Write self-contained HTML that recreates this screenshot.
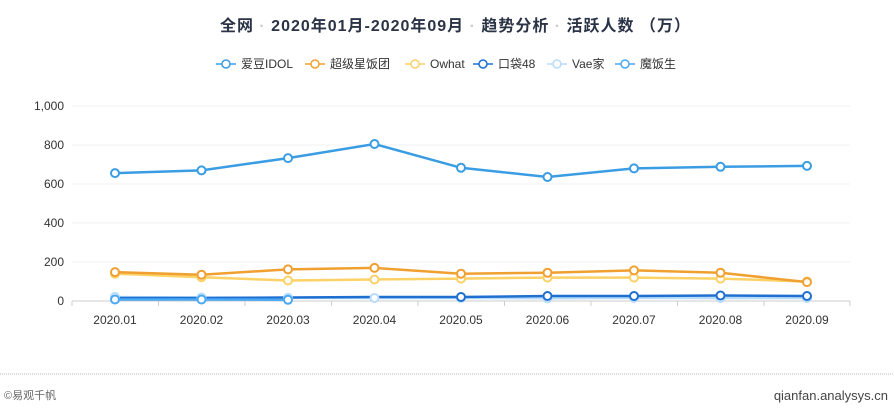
<!DOCTYPE html><html><head><meta charset="utf-8"><style>
body{margin:0;width:894px;height:406px;background:#fff;font-family:"Liberation Sans","Noto Sans CJK SC",sans-serif;overflow:hidden}
</style></head><body>
<svg width="894" height="406" xmlns="http://www.w3.org/2000/svg" font-family="Liberation Sans, Noto Sans CJK SC, sans-serif">
<text x="220" y="31" textLength="470" lengthAdjust="spacing" font-size="16" fill="#2b3346" font-weight="bold" font-family="Liberation Sans, Noto Sans CJK SC, sans-serif">全网 <tspan fill="#ccc">·</tspan> 2020年01月-2020年09月 <tspan fill="#ccc">·</tspan> 趋势分析 <tspan fill="#ccc">·</tspan> 活跃人数 （万）</text>
<g font-size="12" fill="#333">
<g transform="translate(216,64)"><line x1="0" y1="0" x2="20" y2="0" stroke="#3a9de3" stroke-width="1.5"/><circle cx="10" cy="0" r="4" fill="#fff" stroke="#3a9de3" stroke-width="1.5"/><text x="25" y="4">爱豆IDOL</text></g>
<g transform="translate(305,64)"><line x1="0" y1="0" x2="20" y2="0" stroke="#f0a030" stroke-width="1.5"/><circle cx="10" cy="0" r="4" fill="#fff" stroke="#f0a030" stroke-width="1.5"/><text x="25" y="4">超级星饭团</text></g>
<g transform="translate(405,64)"><line x1="0" y1="0" x2="20" y2="0" stroke="#fcd165" stroke-width="1.5"/><circle cx="10" cy="0" r="4" fill="#fff" stroke="#fcd165" stroke-width="1.5"/><text x="25" y="4">Owhat</text></g>
<g transform="translate(473,64)"><line x1="0" y1="0" x2="20" y2="0" stroke="#1f6fd0" stroke-width="1.5"/><circle cx="10" cy="0" r="4" fill="#fff" stroke="#1f6fd0" stroke-width="1.5"/><text x="25" y="4">口袋48</text></g>
<g transform="translate(547,64)"><line x1="0" y1="0" x2="20" y2="0" stroke="#b7dcfb" stroke-width="1.5"/><circle cx="10" cy="0" r="4" fill="#fff" stroke="#b7dcfb" stroke-width="1.5"/><text x="25" y="4">Vae家</text></g>
<g transform="translate(615,64)"><line x1="0" y1="0" x2="20" y2="0" stroke="#4aa8f5" stroke-width="1.5"/><circle cx="10" cy="0" r="4" fill="#fff" stroke="#4aa8f5" stroke-width="1.5"/><text x="25" y="4">魔饭生</text></g>
</g>
<g stroke="#f0f0f0" stroke-width="1">
<line x1="72" y1="106" x2="850" y2="106"/><line x1="72" y1="145" x2="850" y2="145"/><line x1="72" y1="184" x2="850" y2="184"/><line x1="72" y1="223" x2="850" y2="223"/><line x1="72" y1="262" x2="850" y2="262"/>
</g>
<line x1="72" y1="301" x2="850" y2="301" stroke="#ccc"/>
<g stroke="#ccc"><line x1="72" y1="301" x2="72" y2="306"/><line x1="158.5" y1="301" x2="158.5" y2="306"/><line x1="245" y1="301" x2="245" y2="306"/><line x1="331.5" y1="301" x2="331.5" y2="306"/><line x1="418" y1="301" x2="418" y2="306"/><line x1="504.5" y1="301" x2="504.5" y2="306"/><line x1="591" y1="301" x2="591" y2="306"/><line x1="677.5" y1="301" x2="677.5" y2="306"/><line x1="764" y1="301" x2="764" y2="306"/><line x1="850" y1="301" x2="850" y2="306"/></g>
<g font-size="12" fill="#333" text-anchor="end">
<text x="64" y="110">1,000</text><text x="64" y="149">800</text><text x="64" y="188">600</text><text x="64" y="227">400</text><text x="64" y="266">200</text><text x="64" y="305">0</text></g>
<g font-size="12" fill="#333" text-anchor="middle">
<text x="115" y="324">2020.01</text><text x="201.5" y="324">2020.02</text><text x="288" y="324">2020.03</text><text x="374.5" y="324">2020.04</text><text x="461" y="324">2020.05</text><text x="547.5" y="324">2020.06</text><text x="634" y="324">2020.07</text><text x="720.5" y="324">2020.08</text><text x="807" y="324">2020.09</text></g>
<g id="s" fill="#fff" stroke-width="2.5">
<polyline fill="none" stroke="#b7dcfb" points="115,297 201.5,297.5 288,297.7 374.5,298 461,298 547.5,298.3 634,297.9 720.5,298 807,298"/>
<polyline fill="none" stroke="#1f6fd0" points="115,298 201.5,298 288,297.5 374.5,297 461,297 547.5,296 634,296 720.5,295.5 807,296"/>
<polyline fill="none" stroke="#4aa8f5" points="115,299.5 201.5,299.5 288,299.8"/>
<polyline fill="none" stroke="#fcd165" points="115,273.7 201.5,277.2 288,280.5 374.5,279.5 461,278.6 547.5,277.6 634,277.6 720.5,278.6 807,281.5"/>
<polyline fill="none" stroke="#f0a030" points="115,272.1 201.5,274.7 288,269.4 374.5,267.9 461,273.7 547.5,272.7 634,270.4 720.5,272.7 807,282.1"/>
<polyline fill="none" stroke="#3a9de3" points="115,173.1 201.5,170.4 288,158.1 374.5,144 461,167.8 547.5,177 634,168.4 720.5,166.8 807,165.9"/>
<g stroke="#b7dcfb" stroke-width="2"><circle cx="115" cy="297" r="4"/><circle cx="201.5" cy="297.5" r="4"/><circle cx="288" cy="297.7" r="4"/><circle cx="374.5" cy="298" r="4"/><circle cx="461" cy="298" r="4"/><circle cx="547.5" cy="298.3" r="4"/><circle cx="634" cy="297.9" r="4"/><circle cx="720.5" cy="298" r="4"/><circle cx="807" cy="298" r="4"/></g>
<g stroke="#1f6fd0" stroke-width="2"><circle cx="461" cy="297" r="4"/><circle cx="547.5" cy="296" r="4"/><circle cx="634" cy="296" r="4"/><circle cx="720.5" cy="295.5" r="4"/><circle cx="807" cy="296" r="4"/></g>
<g stroke="#4aa8f5" stroke-width="2"><circle cx="115" cy="299.5" r="4"/><circle cx="201.5" cy="299.5" r="4"/><circle cx="288" cy="299.8" r="4"/></g>
<g stroke="#fcd165" stroke-width="2"><circle cx="115" cy="273.7" r="4"/><circle cx="201.5" cy="277.2" r="4"/><circle cx="288" cy="280.5" r="4"/><circle cx="374.5" cy="279.5" r="4"/><circle cx="461" cy="278.6" r="4"/><circle cx="547.5" cy="277.6" r="4"/><circle cx="634" cy="277.6" r="4"/><circle cx="720.5" cy="278.6" r="4"/><circle cx="807" cy="281.5" r="4"/></g>
<g stroke="#f0a030" stroke-width="2"><circle cx="115" cy="272.1" r="4"/><circle cx="201.5" cy="274.7" r="4"/><circle cx="288" cy="269.4" r="4"/><circle cx="374.5" cy="267.9" r="4"/><circle cx="461" cy="273.7" r="4"/><circle cx="547.5" cy="272.7" r="4"/><circle cx="634" cy="270.4" r="4"/><circle cx="720.5" cy="272.7" r="4"/><circle cx="807" cy="282.1" r="4"/></g>
<g stroke="#3a9de3" stroke-width="2"><circle cx="115" cy="173.1" r="4"/><circle cx="201.5" cy="170.4" r="4"/><circle cx="288" cy="158.1" r="4"/><circle cx="374.5" cy="144" r="4"/><circle cx="461" cy="167.8" r="4"/><circle cx="547.5" cy="177" r="4"/><circle cx="634" cy="168.4" r="4"/><circle cx="720.5" cy="166.8" r="4"/><circle cx="807" cy="165.9" r="4"/></g>
</g>
<line x1="0" y1="374" x2="894" y2="374" stroke="#bbb" stroke-dasharray="1,1"/>
<text x="4" y="399" font-size="11" fill="#666">©易观千帆</text>
<text x="888" y="400" font-size="13" fill="#444" text-anchor="end">qianfan.analysys.cn</text>
</svg>
</body></html>
